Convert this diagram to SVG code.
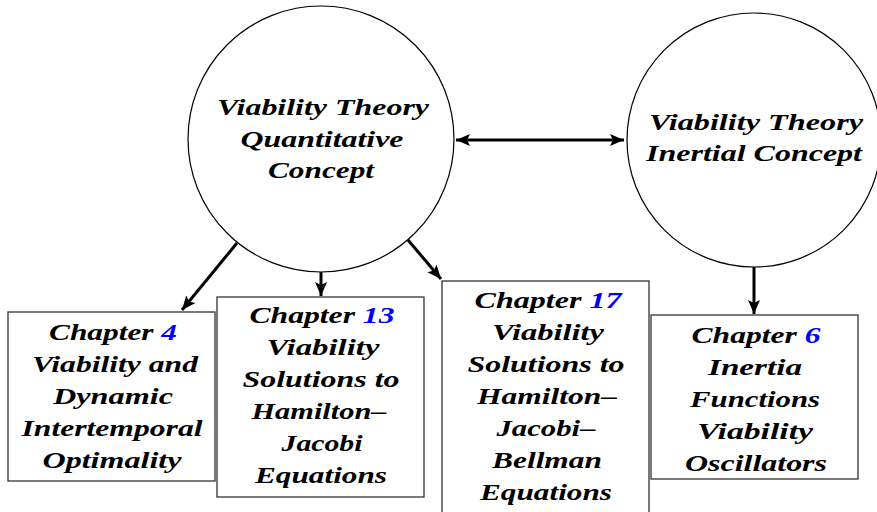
<svg xmlns="http://www.w3.org/2000/svg" width="877" height="512" viewBox="0 0 877 512">
<style>
text{font-family:"Liberation Serif","DejaVu Serif",serif;font-weight:bold;font-style:italic;font-size:24px;fill:#000;text-anchor:middle}
.n{fill:#0000ff}
.c{fill:#fff;stroke:#000;stroke-width:1.2}
.b{fill:#fff;stroke:#333;stroke-width:1.3}
.e{stroke:#000;stroke-width:3;fill:none}
</style>
<defs>
<marker id="ah" markerUnits="userSpaceOnUse" markerWidth="16" markerHeight="16" refX="14" refY="8" orient="auto-start-reverse" viewBox="0 0 16 16">
<path d="M0,2 L14,8 L0,14 L3,8 Z" fill="#000"/>
</marker>
</defs>
<rect width="877" height="512" fill="#fff"/>
<g id="n1">
<circle class="c" cx="321" cy="139" r="133"/>
<text x="323" y="115" textLength="212" lengthAdjust="spacingAndGlyphs">Viability Theory</text>
<text x="322" y="147" textLength="163" lengthAdjust="spacingAndGlyphs">Quantitative</text>
<text x="321" y="178" textLength="106" lengthAdjust="spacingAndGlyphs">Concept</text>
</g>
<g id="n2">
<circle class="c" cx="754" cy="140" r="127"/>
<text x="756" y="130" textLength="214" lengthAdjust="spacingAndGlyphs">Viability Theory</text>
<text x="754" y="161" textLength="216" lengthAdjust="spacingAndGlyphs">Inertial Concept</text>
</g>
<g id="b4">
<rect class="b" x="8" y="312" width="207" height="169"/>
<text x="113" y="340" textLength="128" lengthAdjust="spacingAndGlyphs">Chapter <tspan class="n">4</tspan></text>
<text x="115" y="372" textLength="166" lengthAdjust="spacingAndGlyphs">Viability and</text>
<text x="113" y="404" textLength="120" lengthAdjust="spacingAndGlyphs">Dynamic</text>
<text x="112" y="436" textLength="181" lengthAdjust="spacingAndGlyphs">Intertemporal</text>
<text x="112" y="468" textLength="139" lengthAdjust="spacingAndGlyphs">Optimality</text>
</g>
<g id="b13">
<rect class="b" x="217" y="297" width="207" height="200"/>
<text x="322" y="323" textLength="145" lengthAdjust="spacingAndGlyphs">Chapter <tspan class="n">13</tspan></text>
<text x="323" y="355" textLength="113" lengthAdjust="spacingAndGlyphs">Viability</text>
<text x="321" y="387" textLength="157" lengthAdjust="spacingAndGlyphs">Solutions to</text>
<text x="319" y="419" textLength="135" lengthAdjust="spacingAndGlyphs">Hamilton–</text>
<text x="322" y="451" textLength="81" lengthAdjust="spacingAndGlyphs">Jacobi</text>
<text x="321" y="483" textLength="132" lengthAdjust="spacingAndGlyphs">Equations</text>
</g>
<g id="b17">
<rect class="b" x="442" y="281" width="207" height="240"/>
<text x="548" y="308" textLength="147" lengthAdjust="spacingAndGlyphs">Chapter <tspan class="n">17</tspan></text>
<text x="548" y="340" textLength="112" lengthAdjust="spacingAndGlyphs">Viability</text>
<text x="546" y="372" textLength="157" lengthAdjust="spacingAndGlyphs">Solutions to</text>
<text x="547" y="404" textLength="140" lengthAdjust="spacingAndGlyphs">Hamilton–</text>
<text x="546" y="436" textLength="99" lengthAdjust="spacingAndGlyphs">Jacobi–</text>
<text x="547" y="468" textLength="110" lengthAdjust="spacingAndGlyphs">Bellman</text>
<text x="546" y="500" textLength="132" lengthAdjust="spacingAndGlyphs">Equations</text>
</g>
<g id="b6">
<rect class="b" x="651" y="315" width="207" height="164"/>
<text x="756" y="343" textLength="129" lengthAdjust="spacingAndGlyphs">Chapter <tspan class="n">6</tspan></text>
<text x="755" y="375" textLength="94" lengthAdjust="spacingAndGlyphs">Inertia</text>
<text x="755" y="407" textLength="130" lengthAdjust="spacingAndGlyphs">Functions</text>
<text x="755" y="439" textLength="116" lengthAdjust="spacingAndGlyphs">Viability</text>
<text x="756" y="471" textLength="142" lengthAdjust="spacingAndGlyphs">Oscillators</text>
</g>
<g id="edges">
<line class="e" x1="456" y1="140" x2="624" y2="140" marker-start="url(#ah)" marker-end="url(#ah)"/>
<line class="e" x1="237" y1="243" x2="182" y2="310" marker-end="url(#ah)"/>
<line class="e" x1="321" y1="272" x2="321" y2="296" marker-end="url(#ah)"/>
<line class="e" x1="408" y1="240" x2="441" y2="279" marker-end="url(#ah)"/>
<line class="e" x1="754" y1="267" x2="754" y2="314" marker-end="url(#ah)"/>
</g>
</svg>
